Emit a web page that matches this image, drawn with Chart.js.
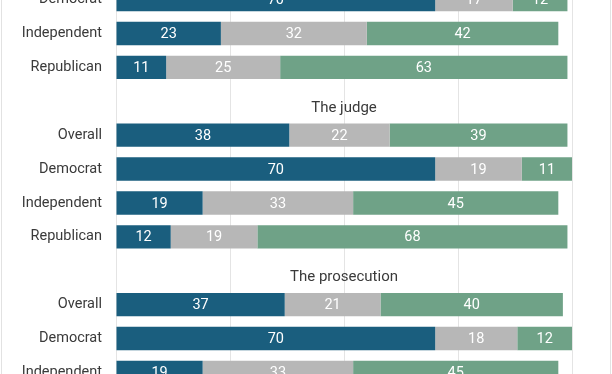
<!DOCTYPE html>
<html>
<head>
<meta charset="utf-8">
<script src="https://cdn.jsdelivr.net/npm/chart.js@4"></script>
<style>
  html, body { margin: 0; padding: 0; background: #fff; overflow: hidden; }
  body { width: 612px; height: 374px; position: relative; }
  .frame { position: absolute; left: 1px; top: 0; width: 608px; height: 374px;
           border-left: 1px solid #e2e2e2; border-right: 1px solid #e2e2e2; }
  /* the reference is a cut-out of a taller chart: shift the canvas up */
  #myChart { position: absolute; left: 0; top: -40px; }
</style>
</head>
<body>
<div class="frame"></div>
<canvas id="myChart" width="612" height="452"></canvas>
<script>
// rows as they appear top to bottom (the picture is cut at top and bottom)
const rowLabels = ['Democrat', 'Independent', 'Republican', '', 'Overall', 'Democrat', 'Independent', 'Republican', '', 'Overall', 'Democrat', 'Independent'];
// group headings sit on the empty rows
const headings = {3: 'The judge', 8: 'The prosecution'};

const blueValues  = [70, 23, 11, null, 38, 70, 19, 12, null, 37, 70, 19];
const grayValues  = [17, 32, 25, null, 22, 19, 33, 19, null, 21, 18, 33];
const greenValues = [12, 42, 63, null, 39, 11, 45, 68, null, 40, 12, 45];

const xTicks = [0, 25, 50, 75, 100];

const textColor = '#3a3a3a';

// white numbers in the middle of each segment
const segmentLabels = {
    id: 'segmentLabels',
    afterDatasetsDraw(chart) {
        const c = chart.ctx;
        c.save();
        c.font = '14.5px Roboto';
        c.fillStyle = '#ffffff';
        c.textAlign = 'center';
        c.textBaseline = 'middle';
        chart.data.datasets.forEach((ds, i) => {
            chart.getDatasetMeta(i).data.forEach((bar, j) => {
                const v = ds.data[j];
                if (v == null) return;
                c.fillText(String(v), (bar.x + bar.base) / 2, bar.y + 1);
            });
        });
        c.restore();
    }
};

// section headings centred over the plot area
const sectionHeadings = {
    id: 'sectionHeadings',
    afterDatasetsDraw(chart) {
        const c = chart.ctx;
        const area = chart.chartArea;
        const y = chart.scales.y;
        c.save();
        c.font = '15px Roboto';
        c.fillStyle = textColor;
        c.textAlign = 'center';
        c.textBaseline = 'middle';
        Object.keys(headings).forEach(k => {
            c.fillText(headings[k], (area.left + area.right) / 2, y.getPixelForValue(Number(k)) + 7);
        });
        c.restore();
    }
};

const ctx = document.getElementById('myChart');
new Chart(ctx, {
    type: 'bar',
    data: {
        labels: rowLabels,
        datasets: [
            {label: 'blue', data: blueValues, backgroundColor: '#1a5e7e'},
            {label: 'gray', data: grayValues, backgroundColor: '#b7b7b7'},
            {label: 'green', data: greenValues, backgroundColor: '#6fa287'},
        ]
    },
    options: {
        indexAxis: 'y',
        responsive: false,
        animation: false,
        datasets: {
            bar: {barPercentage: 0.69, categoryPercentage: 1, borderWidth: 0}
        },
        layout: {padding: {left: 0, right: 40, top: 0, bottom: 0}},
        scales: {
            x: {
                stacked: true,
                min: 0,
                max: 100,
                afterBuildTicks: scale => { scale.ticks = xTicks.map(v => ({value: v})); },
                ticks: {display: false},
                grid: {color: '#e4e4e4', drawTicks: false},
                border: {display: false}
            },
            y: {
                stacked: true,
                afterFit: scale => { scale.width = 116; },
                ticks: {
                    color: textColor,
                    font: {family: 'Roboto', size: 14.5},
                    padding: 14
                },
                grid: {display: false, drawTicks: false},
                border: {display: false}
            }
        },
        plugins: {
            legend: {display: false},
            tooltip: {enabled: false}
        }
    },
    plugins: [segmentLabels, sectionHeadings]
});
</script>
</body>
</html>
